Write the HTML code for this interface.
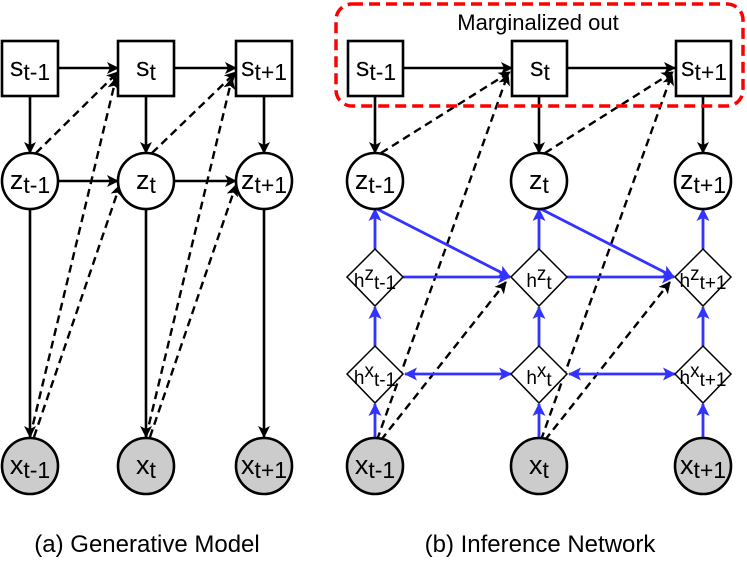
<!DOCTYPE html>
<html><head><meta charset="utf-8"><style>
html,body{margin:0;padding:0;background:#fff}
svg{display:block;font-family:"Liberation Sans",sans-serif}
</style></head><body>
<svg width="747" height="564" viewBox="0 0 747 564" xmlns="http://www.w3.org/2000/svg">
<defs>
<marker id="ab" markerWidth="12" markerHeight="12" refX="11" refY="6" orient="auto" markerUnits="userSpaceOnUse"><path d="M0,0 L12,6 L0,12 L3,6 z" fill="#000"/></marker>
<marker id="au" markerWidth="13" markerHeight="13" refX="12" refY="6.5" orient="auto" markerUnits="userSpaceOnUse"><path d="M0,0 L13,6.5 L0,13 L3,6.5 z" fill="#33f"/></marker>
<marker id="as" markerWidth="13" markerHeight="13" refX="1" refY="6.5" orient="auto" markerUnits="userSpaceOnUse"><path d="M13,0 L0,6.5 L13,13 L10,6.5 z" fill="#33f"/></marker>
</defs>
<g stroke="#000" stroke-width="2.6" fill="none">
<line x1="58" y1="68" x2="118" y2="68" marker-end="url(#ab)"/>
<line x1="174" y1="68" x2="236" y2="68" marker-end="url(#ab)"/>
<line x1="30" y1="96" x2="30" y2="153" marker-end="url(#ab)"/>
<line x1="146" y1="96" x2="146" y2="153" marker-end="url(#ab)"/>
<line x1="264" y1="96" x2="264" y2="153" marker-end="url(#ab)"/>
<line x1="58" y1="181" x2="118" y2="181" marker-end="url(#ab)"/>
<line x1="174" y1="181" x2="236" y2="181" marker-end="url(#ab)"/>
<line x1="30" y1="209" x2="30" y2="437" marker-end="url(#ab)"/>
<line x1="146" y1="209" x2="146" y2="437" marker-end="url(#ab)"/>
<line x1="264" y1="209" x2="264" y2="437" marker-end="url(#ab)"/>
<line x1="403" y1="68" x2="512" y2="68" marker-end="url(#ab)"/>
<line x1="567" y1="68" x2="675" y2="68" marker-end="url(#ab)"/>
<line x1="375" y1="96" x2="375" y2="153" marker-end="url(#ab)"/>
<line x1="539" y1="96" x2="539" y2="153" marker-end="url(#ab)"/>
<line x1="703" y1="96" x2="703" y2="153" marker-end="url(#ab)"/>
</g>
<g stroke="#000" stroke-width="2.4" fill="none" stroke-dasharray="8,5">
<line x1="36" y1="153" x2="118" y2="72" marker-end="url(#ab)"/>
<line x1="152" y1="153" x2="236" y2="72" marker-end="url(#ab)"/>
<line x1="30" y1="437" x2="116" y2="78" marker-end="url(#ab)"/>
<line x1="34" y1="437" x2="120" y2="185" marker-end="url(#ab)"/>
<line x1="146" y1="437" x2="232" y2="78" marker-end="url(#ab)"/>
<line x1="150" y1="437" x2="236" y2="185" marker-end="url(#ab)"/>
<line x1="381" y1="153" x2="510" y2="72" marker-end="url(#ab)"/>
<line x1="545" y1="153" x2="673" y2="72" marker-end="url(#ab)"/>
<line x1="377" y1="440" x2="508" y2="74" marker-end="url(#ab)"/>
<line x1="381" y1="440" x2="506" y2="282" marker-end="url(#ab)"/>
<line x1="541" y1="440" x2="672" y2="74" marker-end="url(#ab)"/>
<line x1="545" y1="440" x2="670" y2="282" marker-end="url(#ab)"/>
</g>
<g stroke="#33f" stroke-width="2.8" fill="none">
<line x1="375" y1="437" x2="375" y2="404" marker-end="url(#au)"/>
<line x1="539" y1="437" x2="539" y2="404" marker-end="url(#au)"/>
<line x1="703" y1="437" x2="703" y2="404" marker-end="url(#au)"/>
<line x1="375" y1="346" x2="375" y2="307" marker-end="url(#au)"/>
<line x1="539" y1="346" x2="539" y2="307" marker-end="url(#au)"/>
<line x1="703" y1="346" x2="703" y2="307" marker-end="url(#au)"/>
<line x1="375" y1="249" x2="375" y2="209" marker-end="url(#au)"/>
<line x1="539" y1="249" x2="539" y2="209" marker-end="url(#au)"/>
<line x1="703" y1="249" x2="703" y2="209" marker-end="url(#au)"/>
<line x1="403" y1="277" x2="510" y2="277" marker-end="url(#au)"/>
<line x1="567" y1="277" x2="674" y2="277" marker-end="url(#au)"/>
<line x1="377" y1="209" x2="510" y2="277" marker-end="url(#au)"/>
<line x1="541" y1="209" x2="674" y2="277" marker-end="url(#au)"/>
<line x1="405" y1="374" x2="511" y2="374" marker-start="url(#as)" marker-end="url(#au)"/>
<line x1="569" y1="374" x2="675" y2="374" marker-start="url(#as)" marker-end="url(#au)"/>
</g>
<rect x="336" y="4" width="407" height="102" rx="16" fill="none" stroke="#f00" stroke-width="3.5" stroke-dasharray="11,6"/>
<text x="538" y="30" font-size="22" text-anchor="middle">Marginalized out</text>
<g stroke="#000" stroke-width="2.6" fill="#fff">
<rect x="2" y="41" width="56" height="55"/><rect x="118" y="41" width="56" height="55"/><rect x="236" y="41" width="56" height="55"/>
<rect x="348" y="41" width="55" height="55"/><rect x="512" y="41" width="55" height="55"/><rect x="676" y="41" width="55" height="55"/>
<circle cx="30" cy="181" r="28"/><circle cx="146" cy="181" r="28"/><circle cx="264" cy="181" r="28"/>
<circle cx="375" cy="181" r="28"/><circle cx="539" cy="181" r="28"/><circle cx="703" cy="181" r="28"/>
</g>
<g stroke="#000" stroke-width="2.6" fill="#ccc">
<circle cx="30" cy="466" r="28"/><circle cx="146" cy="466" r="28"/><circle cx="264" cy="466" r="28"/>
<circle cx="375" cy="466" r="28"/><circle cx="539" cy="466" r="28"/><circle cx="703" cy="466" r="28"/>
</g>
<g stroke="#000" stroke-width="1.5" fill="#fff">
<path d="M375,249 L403,277 L375,306 L347,277 z"/><path d="M539,249 L567,277 L539,306 L511,277 z"/><path d="M703,249 L731,277 L703,306 L675,277 z"/>
<path d="M375,346 L403,374 L375,403 L347,374 z"/><path d="M539,346 L567,374 L539,403 L511,374 z"/><path d="M703,346 L731,374 L703,403 L675,374 z"/>
</g>
<g font-size="27" text-anchor="middle">
<text x="30" y="76">s<tspan font-size="23" dy="4">t-1</tspan></text>
<text x="146" y="76">s<tspan font-size="23" dy="4">t</tspan></text>
<text x="264" y="76">s<tspan font-size="23" dy="4">t+1</tspan></text>
<text x="376" y="76">s<tspan font-size="23" dy="4">t-1</tspan></text>
<text x="540" y="76">s<tspan font-size="23" dy="4">t</tspan></text>
<text x="704" y="76">s<tspan font-size="23" dy="4">t+1</tspan></text>
<text x="30" y="189">z<tspan font-size="23" dy="4">t-1</tspan></text>
<text x="146" y="189">z<tspan font-size="23" dy="4">t</tspan></text>
<text x="264" y="189">z<tspan font-size="23" dy="4">t+1</tspan></text>
<text x="375" y="189">z<tspan font-size="23" dy="4">t-1</tspan></text>
<text x="539" y="189">z<tspan font-size="23" dy="4">t</tspan></text>
<text x="703" y="189">z<tspan font-size="23" dy="4">t+1</tspan></text>
<text x="30" y="474">x<tspan font-size="23" dy="4">t-1</tspan></text>
<text x="146" y="474">x<tspan font-size="23" dy="4">t</tspan></text>
<text x="264" y="474">x<tspan font-size="23" dy="4">t+1</tspan></text>
<text x="375" y="474">x<tspan font-size="23" dy="4">t-1</tspan></text>
<text x="539" y="474">x<tspan font-size="23" dy="4">t</tspan></text>
<text x="703" y="474">x<tspan font-size="23" dy="4">t+1</tspan></text>
</g>
<g font-size="19" text-anchor="middle">
<text x="375" y="287">h<tspan dy="-7">z</tspan><tspan dy="9">t-1</tspan></text>
<text x="539" y="287">h<tspan dy="-7">z</tspan><tspan dy="9">t</tspan></text>
<text x="703" y="287">h<tspan dy="-7">z</tspan><tspan dy="9">t+1</tspan></text>
<text x="375" y="384">h<tspan dy="-7">x</tspan><tspan dy="9">t-1</tspan></text>
<text x="539" y="384">h<tspan dy="-7">x</tspan><tspan dy="9">t</tspan></text>
<text x="703" y="384">h<tspan dy="-7">x</tspan><tspan dy="9">t+1</tspan></text>
</g>
<text x="147" y="552" font-size="24" text-anchor="middle">(a) Generative Model</text>
<text x="540" y="552" font-size="24" text-anchor="middle">(b) Inference Network</text>
</svg>
</body></html>
